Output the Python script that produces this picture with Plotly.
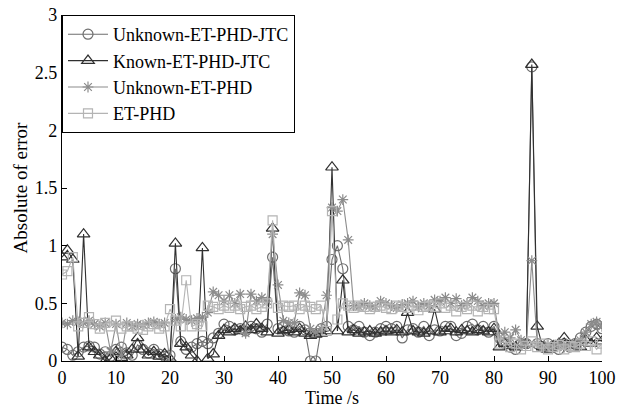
import plotly.graph_objects as go

t = list(range(101))

unknown_jtc = [0.12, 0.1, 0.05, 0.08, 0.12, 0.13, 0.12, 0.06, 0.08, 0.04,
               0.1, 0.12, 0.07, 0.05, 0.14, 0.1, 0.07, 0.1, 0.06, 0.04,
               0.05, 0.8, 0.17, 0.1, 0.12, 0.15, 0.17, 0.15, 0.2, 0.24,
               0.32, 0.3, 0.27, 0.28, 0.26, 0.3, 0.28, 0.25, 0.32, 0.9,
               0.28, 0.3, 0.26, 0.25, 0.3, 0.27, 0.0, 0.0, 0.28, 0.3,
               0.88, 1.0, 0.8, 0.3, 0.27, 0.3, 0.25, 0.22, 0.25, 0.28,
               0.3, 0.28, 0.3, 0.2, 0.27, 0.28, 0.25, 0.3, 0.22, 0.27,
               0.26, 0.3, 0.3, 0.22, 0.24, 0.3, 0.32, 0.27, 0.3, 0.25,
               0.3, 0.2, 0.15, 0.12, 0.1, 0.15, 0.15, 2.55, 0.15, 0.12,
               0.15, 0.13, 0.1, 0.15, 0.12, 0.15, 0.2, 0.25, 0.3, 0.32,
               0.28]

known_jtc = [0.9, 0.96, 0.88, 0.04, 1.1, 0.12, 0.08, 0.05, 0.0, 0.02,
             0.08, 0.03, 0.05, 0.1, 0.2, 0.1, 0.05, 0.08, 0.04, 0.06,
             0.02, 1.02, 0.15, 0.12, 0.05, 0.0, 0.98, 0.02, 0.06, 0.22,
             0.27, 0.25, 0.28, 0.26, 0.3, 0.27, 0.32, 0.28, 0.25, 1.15,
             0.24, 0.26, 0.27, 0.25, 0.28, 0.24, 0.22, 0.23, 0.24, 0.26,
             1.68, 0.26, 0.7, 0.25, 0.27, 0.24, 0.25, 0.26, 0.24, 0.25,
             0.26, 0.25, 0.27, 0.25, 0.42, 0.26, 0.25, 0.24, 0.26, 0.45,
             0.25, 0.26, 0.28, 0.25, 0.27, 0.26, 0.25, 0.27, 0.26, 0.25,
             0.28, 0.12, 0.15, 0.13, 0.12, 0.14, 0.15, 2.57, 0.3, 0.12,
             0.1, 0.13, 0.15, 0.2, 0.13, 0.14, 0.12, 0.18, 0.15, 0.2,
             0.17]

unknown_phd = [0.33, 0.32, 0.35, 0.34, 0.33, 0.35, 0.32, 0.3, 0.33, 0.08,
               0.32, 0.05, 0.33, 0.3, 0.32, 0.31, 0.33, 0.34, 0.32, 0.33,
               0.0, 0.36, 0.38, 0.36, 0.35, 0.37, 0.38, 0.42, 0.6, 0.57,
               0.52, 0.57, 0.5, 0.58, 0.24, 0.58, 0.52, 0.55, 0.52, 1.1,
               0.66, 0.35, 0.33, 0.33, 0.59, 0.57, 0.28, 0.25, 0.28, 0.57,
               1.33, 1.3, 1.4, 1.05, 0.48, 0.47, 0.5, 0.48, 0.47, 0.52,
               0.5, 0.48, 0.46, 0.49, 0.5, 0.52, 0.47, 0.5, 0.48, 0.53,
               0.52, 0.55, 0.5, 0.54, 0.48, 0.5, 0.55, 0.52, 0.48, 0.5,
               0.5, 0.2, 0.25, 0.2, 0.27, 0.18, 0.15, 0.87, 0.15, 0.12,
               0.14, 0.12, 0.15, 0.12, 0.15, 0.14, 0.18, 0.25, 0.32, 0.34,
               0.3]

et_phd = [0.75, 0.78, 0.9, 0.3, 0.33, 0.38, 0.32, 0.28, 0.33, 0.3,
          0.35, 0.28, 0.3, 0.3, 0.28, 0.27, 0.3, 0.32, 0.28, 0.3,
          0.45, 0.35, 0.3, 0.7, 0.3, 0.32, 0.3, 0.48, 0.47, 0.45,
          0.48, 0.46, 0.48, 0.45, 0.47, 0.48, 0.45, 0.47, 0.5, 1.22,
          0.46, 0.48, 0.47, 0.48, 0.45, 0.48, 0.47, 0.45, 0.48, 0.26,
          1.3, 0.36, 0.5, 0.48, 0.46, 0.48, 0.47, 0.45, 0.47, 0.48,
          0.46, 0.45, 0.48, 0.47, 0.46, 0.48, 0.44, 0.47, 0.48, 0.47,
          0.5, 0.46, 0.48, 0.43, 0.47, 0.45, 0.48, 0.43, 0.47, 0.45,
          0.45, 0.15, 0.18, 0.12, 0.15, 0.1, 0.13, 0.17, 0.12, 0.15,
          0.1, 0.12, 0.14, 0.1, 0.13, 0.12, 0.15, 0.13, 0.17, 0.1,
          0.15]

x_ticks = list(range(0, 101, 10))
y_ticks = [0, 0.5, 1, 1.5, 2, 2.5, 3]
y_tick_labels = ["0", "0.5", "1", "1.5", "2", "2.5", "3"]

series = [
    ("Unknown-ET-PHD-JTC", unknown_jtc, "#6e6e6e", "circle-open", 10),
    ("Known-ET-PHD-JTC", known_jtc, "#303030", "triangle-up-open", 11),
    ("Unknown-ET-PHD", unknown_phd, "#8c8c8c", "asterisk-open", 9),
    ("ET-PHD", et_phd, "#b4b4b4", "square-open", 9),
]

fig = go.Figure()
for name, vals, col, sym, sz in series:
    fig.add_trace(go.Scatter(
        x=t, y=vals, name=name, mode="lines+markers",
        line=dict(color=col, width=1.1),
        marker=dict(symbol=sym, size=sz, color=col, line=dict(color=col, width=1.2)),
    ))

font = "Liberation Serif, Times New Roman, serif"
fig.update_layout(
    width=627, height=408,
    margin=dict(l=62, r=25, t=15, b=47),
    plot_bgcolor="white", paper_bgcolor="white",
    font=dict(family=font, size=18, color="black"),
    showlegend=True,
    legend=dict(x=0, y=1, xanchor="left", yanchor="top",
                bgcolor="white", bordercolor="black", borderwidth=1,
                font=dict(family=font, size=18, color="black"),
                tracegroupgap=0, itemwidth=40),
    xaxis=dict(range=[0, 100], tickvals=x_ticks,
               showgrid=False, zeroline=False, showline=True,
               linecolor="black", linewidth=1.2, ticks="inside",
               ticklen=5, tickcolor="black", automargin=False,
               title=dict(text="Time /s", standoff=2, font=dict(size=18)),
               tickfont=dict(size=18)),
    yaxis=dict(range=[0, 3], tickvals=y_ticks, ticktext=y_tick_labels,
               showgrid=False, zeroline=False, showline=True,
               linecolor="black", linewidth=1.2, ticks="inside",
               ticklen=5, tickcolor="black", automargin=False,
               title=dict(text="Absolute of error", standoff=2, font=dict(size=19)),
               tickfont=dict(size=18)),
)

fig.write_html("out.html", config={"displayModeBar": False},
               post_script="document.body.style.margin='0';")
